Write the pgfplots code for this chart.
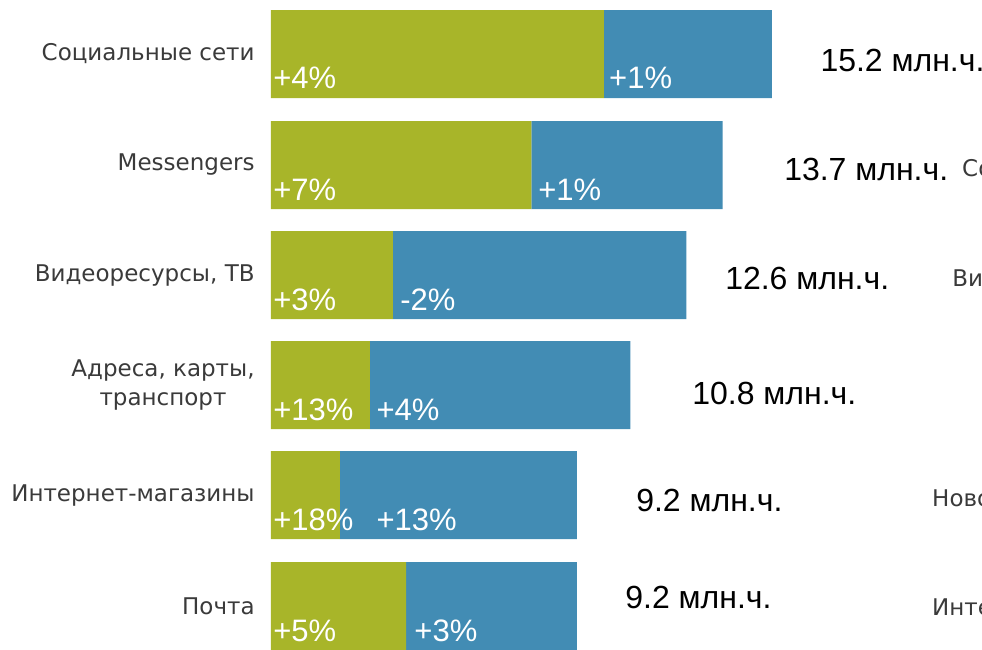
\documentclass[border=0pt]{standalone}
\usepackage{pgfplots}
\pgfplotsset{compat=1.18}
\usepackage{fontspec}
\setmainfont{Liberation Sans}
\newfontfamily\labelfont{DejaVu Sans}
\definecolor{cgreen}{HTML}{A8B529}
\definecolor{cblue}{HTML}{428CB4}
\definecolor{ctext}{HTML}{3A3A3A}
\tikzset{
  pctlab/.style={font=\fontsize{15.5}{18}\selectfont, text=white, anchor=base west, inner sep=0pt},
  vallab/.style={font=\fontsize{16}{19}\selectfont, text=black, anchor=base west, inner sep=0pt},
  cutlab/.style={font=\labelfont\fontsize{11.5}{14}\selectfont, text=ctext, anchor=base west, inner sep=0pt},
}
\begin{document}
\begin{tikzpicture}
\begin{axis}[
  scale only axis, width=355.5pt, height=324.5pt,
  xmin=0, xmax=21.572, ymin=0, ymax=649, y dir=reverse,
  xbar stacked, bar width=88,
  axis line style={draw=none}, major tick length=0pt,
  xtick=\empty,
  ytick={54,165,275,385,495,606},
  yticklabels={Социальные сети, Messengers, {Видеоресурсы, ТВ}, {Адреса, карты,\\транспорт}, Интернет-магазины, Почта},
  yticklabel style={font=\labelfont\fontsize{11.5}{14.5}\selectfont, text=ctext, align=center, inner sep=0pt, xshift=-8pt},
]
\addplot[fill=cgreen, draw=none] coordinates {(10.1,54) (7.9,165) (3.7,275) (3.0,385) (2.09,495) (4.1,606)};
\addplot[fill=cblue, draw=none] coordinates {(5.1,54) (5.8,165) (8.9,275) (7.9,385) (7.19,495) (5.18,606)};

\coordinate (g1) at (axis cs:0.06,89);
\coordinate (g2) at (axis cs:0.06,200);
\coordinate (g3) at (axis cs:0.06,310);
\coordinate (g4) at (axis cs:0.06,420);
\coordinate (g5) at (axis cs:0.06,530);
\coordinate (g6) at (axis cs:0.06,641);
\coordinate (b1) at (axis cs:10.25,89);
\coordinate (b2) at (axis cs:8.10,200);
\coordinate (b3) at (axis cs:3.91,310);
\coordinate (b4) at (axis cs:3.19,420);
\coordinate (b5) at (axis cs:3.19,530);
\coordinate (b6) at (axis cs:4.34,641);

\node[vallab] at (axis cs:16.66,71) {15.2 млн.ч.};
\node[vallab] at (axis cs:15.56,180) {13.7 млн.ч.};
\node[vallab] at (axis cs:13.77,289) {12.6 млн.ч.};
\node[vallab] at (axis cs:12.77,404) {10.8 млн.ч.};
\node[vallab] at (axis cs:11.07,511) {9.2 млн.ч.};
\node[vallab] at (axis cs:10.74,608) {9.2 млн.ч.};

\node[cutlab] at (axis cs:20.96,176) {Со};
\node[cutlab] at (axis cs:20.66,286) {Ви};
\node[cutlab] at (axis cs:20.05,506) {Ново};
\node[cutlab] at (axis cs:20.05,615) {Инте};

\coordinate (BL) at (axis cs:-8.2221,649);
\coordinate (TR) at (axis cs:21.572,0);
\end{axis}
\node[pctlab] at (g1) {+4\%};
\node[pctlab] at (g2) {+7\%};
\node[pctlab] at (g3) {+3\%};
\node[pctlab] at (g4) {+13\%};
\node[pctlab] at (g5) {+18\%};
\node[pctlab] at (g6) {+5\%};
\node[pctlab] at (b1) {+1\%};
\node[pctlab] at (b2) {+1\%};
\node[pctlab] at (b3) {-2\%};
\node[pctlab] at (b4) {+4\%};
\node[pctlab] at (b5) {+13\%};
\node[pctlab] at (b6) {+3\%};
\pgfresetboundingbox
\useasboundingbox (BL) rectangle (TR);
\end{tikzpicture}
\end{document}
